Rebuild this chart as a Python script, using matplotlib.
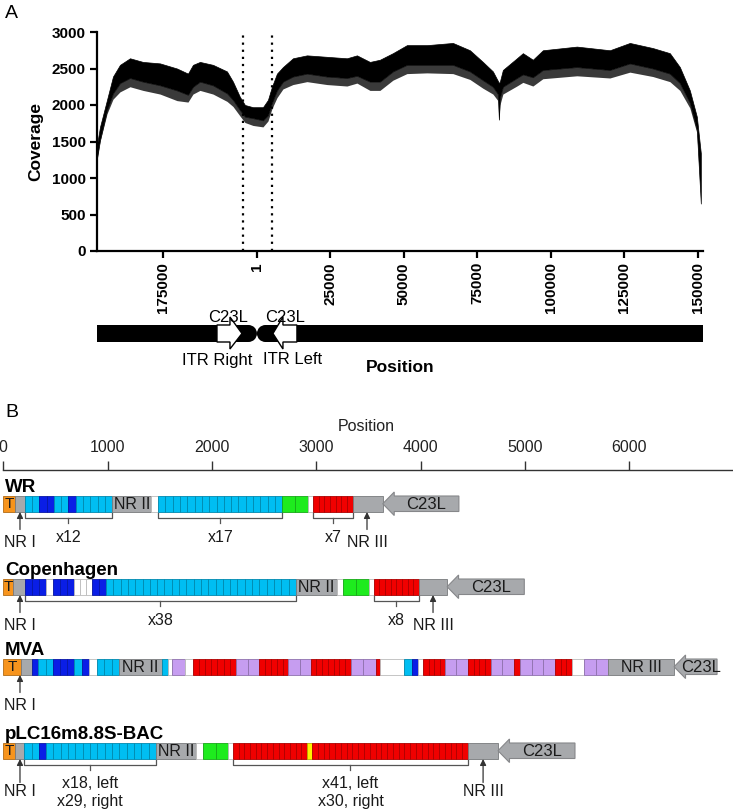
import matplotlib
matplotlib.use('Agg')
import matplotlib.pyplot as plt
import matplotlib.colors as mcolors
from matplotlib.patches import Rectangle, Polygon, Ellipse

plt.rcParams['font.family'] = ['Liberation Sans', 'DejaVu Sans']

# ---------------- panel A data ----------------
# shifted position (bp, position "1" at 0, right ITR end wrapped to negative), coverage band
genome_shift = 207000
cov_pos = [-54300, -53380, -51000, -48960, -46580, -43180, -38760, -32980, -27200,
           -23460, -21760, -19380, -14960, -10200, -8160, -5780, -4080, -1360, 2040,
           3740, 5100, 6800, 8840, 12240, 17000, 23800, 30600, 34000, 38420, 41820,
           46240, 51000, 57800, 66640, 72420, 76840, 80240, 81940, 82280, 82620, 83640,
           88400, 90440, 93840, 97240, 108800, 120020, 126820, 134640, 140420, 143820,
           147220, 149600, 150960]
cov_top = [1480, 1700, 2070, 2390, 2550, 2640, 2590, 2570, 2500,
           2430, 2550, 2590, 2550, 2460, 2320, 2110, 2000, 1970, 1970,
           2070, 2250, 2430, 2520, 2640, 2680, 2660, 2640, 2680, 2590, 2620,
           2710, 2820, 2820, 2850, 2750, 2590, 2460, 2330, 2300, 2320, 2480,
           2640, 2710, 2620, 2750, 2800, 2750, 2850, 2780, 2710, 2520,
           2200, 1840, 1340]
cov_bottom = [1290, 1520, 1930, 2160, 2300, 2370, 2320, 2270, 2200,
              2140, 2250, 2320, 2270, 2160, 2070, 1930, 1840, 1820, 1790,
              1860, 2030, 2200, 2320, 2390, 2430, 2390, 2370, 2400, 2320, 2320,
              2460, 2550, 2550, 2550, 2460, 2340, 2250, 2150, 1800, 2100, 2250,
              2370, 2420, 2380, 2480, 2520, 2480, 2570, 2500, 2430, 2300,
              2030, 1660, 650]
# lowest reach of the grey noise spikes below the dense band
cov_fringe = [1290, 1500, 1880, 2080, 2180, 2250, 2200, 2150, 2060,
              2040, 2150, 2200, 2150, 2050, 1980, 1850, 1760, 1720, 1700,
              1780, 1950, 2100, 2220, 2280, 2320, 2280, 2260, 2300, 2200, 2200,
              2340, 2430, 2440, 2430, 2350, 2230, 2150, 2060, 1790, 2000, 2150,
              2260, 2310, 2260, 2360, 2400, 2370, 2450, 2390, 2320, 2200,
              1960, 1620, 650]
itr_lines = [-4760, 5100]
a_tick_labels = [175000, 1, 25000, 50000, 75000, 100000, 125000, 150000]
a_xlim = (-54400, 151700)

# genome map (shifted bp)
itr_right_arrow = (-13600, -9180, -5100)   # tail, head base, tip
itr_left_arrow = (13600, 8840, 5440)

# ---------------- panel B data ----------------
# (kind, length bp, number of repeat cells)
wr_segs = [('T', 110, 1), ('gray', 95, 1), ('cyan', 140, 2), ('blue', 140, 2), ('cyan', 140, 2),
           ('blue', 70, 1), ('cyan', 350, 5), ('NR II', 375, 1), ('white', 65, 1),
           ('cyan', 1190, 17), ('green', 250, 2), ('white', 45, 1), ('red', 378, 7),
           ('gray', 290, 1)]
cop_segs = [('T', 95, 1), ('gray', 110, 1), ('blue', 200, 3), ('white', 70, 1), ('blue', 200, 3),
            ('white', 180, 3), ('blue', 130, 2), ('cyan', 1820, 26), ('NR II', 390, 1),
            ('white', 65, 1), ('green', 250, 2), ('white', 40, 1), ('red', 435, 8),
            ('gray', 270, 1)]
mva_segs = [('T', 167, 1), ('gray', 105, 1), ('blue', 64, 1), ('cyan', 144, 2), ('blue', 198, 3),
            ('cyan', 74, 1), ('blue', 73, 1), ('white', 70, 1), ('cyan', 214, 3),
            ('NR II', 410, 1), ('cyan', 63, 1), ('white', 33, 1), ('lav', 127, 1),
            ('white', 74, 1), ('red', 415, 7), ('lav', 224, 2), ('red', 278, 5),
            ('lav', 214, 2), ('red', 386, 7), ('lav', 240, 2), ('red', 39, 1),
            ('white', 230, 1), ('cyan', 76, 1), ('blue', 58, 1), ('white', 48, 1),
            ('red', 211, 4), ('lav', 220, 2), ('red', 221, 4), ('lav', 220, 2),
            ('red', 58, 1), ('lav', 335, 3), ('red', 163, 3), ('white', 115, 1),
            ('lav', 231, 2), ('NR III', 633, 1)]
plc_segs = [('T', 112, 1), ('gray', 87, 1), ('cyan', 143, 2), ('blue', 67, 1), ('cyan', 1055, 15),
            ('NR II', 384, 1), ('white', 67, 1), ('green', 239, 2), ('white', 48, 1),
            ('red', 710, 13), ('yellow', 48, 1), ('red', 1495, 27), ('gray', 288, 1)]

row_names = ['WR', 'Copenhagen', 'MVA', 'pLC16m8.8S-BAC']
row_segs = [wr_segs, cop_segs, mva_segs, plc_segs]
row_c23l = [730, 740, 412, 738]          # length of C23L arrow (bp)
row_nr1 = [160, 160, 160, 160]           # NR I arrow position (bp)
row_nr3 = [3487, 4120, None, 4600]       # NR III arrow position (bp)
row_brackets = [
    [(205, 1045, 'x12'), (1485, 2675, 'x17'), (2970, 3348, 'x7')],
    [(205, 2805, 'x38'), (3550, 3985, 'x8')],
    [],
    [(199, 1464, 'x18, left\nx29, right'), (2202, 4455, 'x41, left\nx30, right')],
]
b_ticks = [0, 1000, 2000, 3000, 4000, 5000, 6000]

colors = {'T': '#F7941D', 'gray': '#A7A9AC', 'NR II': '#A7A9AC', 'NR III': '#A7A9AC',
          'cyan': '#00BEF2', 'blue': '#0A1EE6', 'white': '#FFFFFF', 'green': '#1EEB1E',
          'red': '#F00000', 'lav': '#C69DF0', 'yellow': '#FFF200'}

W, H = 733, 809
fig = plt.figure(figsize=(W / 100, H / 100), dpi=100)


def px_axes(x0, y0, x1, y1):
    return fig.add_axes([x0 / W, 1 - y1 / H, (x1 - x0) / W, (y1 - y0) / H])


def shifted(p):
    return p - genome_shift if p > 160000 else p


# ---------------- panel A ----------------
axA = px_axes(97, 32, 703, 251)
axA.fill_between(cov_pos, cov_fringe, cov_bottom, color='#3a3a3a', lw=0)
axA.fill_between(cov_pos, cov_bottom, cov_top, color='black', lw=0.5)
for xv in itr_lines:
    axA.plot([xv, xv], [0, 3000], color='black', lw=1.6, ls=(0, (1, 2.2)))
axA.set_xlim(*a_xlim)
axA.set_ylim(0, 3000)
axA.set_yticks(range(0, 3001, 500))
axA.set_xticks([shifted(v) for v in a_tick_labels])
axA.set_xticklabels([str(v) for v in a_tick_labels], rotation=90)
for s in ['top', 'right']:
    axA.spines[s].set_visible(False)
for s in ['left', 'bottom']:
    axA.spines[s].set_linewidth(1.6)
axA.tick_params(length=5, width=1.6, pad=3, labelsize=11)
for lab in axA.get_xticklabels() + axA.get_yticklabels():
    lab.set_fontweight('bold')
axA.set_ylabel('Coverage', fontsize=12.5, fontweight='bold')
axA.yaxis.set_label_coords(-0.089, 0.5)

# genome map
axG = px_axes(97, 290, 703, 380)
axG.set_xlim(*a_xlim)
axG.set_ylim(380, 290)
axG.axis('off')
pxw = (a_xlim[1] - a_xlim[0]) / 606.0   # bp per pixel
yt, yb = 325, 342
ym = (yt + yb) / 2
r = (yb - yt) / 2
axG.add_patch(Rectangle((a_xlim[0], yt), -r * pxw - a_xlim[0], yb - yt, color='black', lw=0))
axG.add_patch(Rectangle((r * pxw, yt), a_xlim[1] - r * pxw, yb - yt, color='black', lw=0))
axG.add_patch(Ellipse((-r * pxw, ym), 2 * r * pxw, 2 * r, color='black', lw=0))
axG.add_patch(Ellipse((r * pxw, ym), 2 * r * pxw, 2 * r, color='black', lw=0))
for tail, hb, tip in [itr_right_arrow, itr_left_arrow]:
    axG.add_patch(Polygon([(tail, yt), (hb, yt), (hb, yt - 8), (tip, ym), (hb, yb + 7),
                           (hb, yb), (tail, yb)], closed=True, fc='white', ec='black',
                          lw=1.0, zorder=3))
axG.text(-9860, 317, 'C23L', ha='center', va='center', fontsize=12)
axG.text(9520, 317, 'C23L', ha='center', va='center', fontsize=12)
axG.text(itr_right_arrow[0], 360, 'ITR Right', ha='center', va='center', fontsize=12)
axG.text(12240, 360, 'ITR Left', ha='center', va='center', fontsize=12)
axG.text((a_xlim[0] + a_xlim[1]) / 2, 368, 'Position', ha='center', va='center',
         fontsize=12.5, fontweight='bold')

fig.text(5 / W, 1 - 18 / H, 'A', fontsize=14, va='baseline')
fig.text(5 / W, 1 - 417 / H, 'B', fontsize=14, va='baseline')

# ---------------- panel B ----------------
b_xlim = (-31.6, 6996)
axR = px_axes(0, 461, 733, 470)
axR.set_xlim(*b_xlim)
axR.set_yticks([])
for s in ['top', 'right', 'left']:
    axR.spines[s].set_visible(False)
axR.spines['bottom'].set_bounds(0, b_xlim[1])
axR.spines['bottom'].set_linewidth(1.0)
axR.spines['bottom'].set_color('#333333')
axR.set_xticks(b_ticks)
axR.tick_params(axis='x', direction='in', length=6.5, width=1.0, colors='#333333',
                labeltop=True, labelbottom=False, top=False, bottom=True, pad=4.5,
                labelsize=11.5, labelcolor='#222222')
axR.patch.set_visible(False)
axR.xaxis.set_label_position('top')
axR.set_xlabel('Position', fontsize=11.5, color='#222222', labelpad=6)

axB = px_axes(0, 395, 733, 809)
axB.set_xlim(*b_xlim)
axB.set_ylim(809, 395)
axB.axis('off')

bar_tops = [496, 579, 659, 743]
bar_h = 15.5
head_len = 110
txt_col = '#1a1a1a'
line_col = '#555555'


def darker(c, f=0.72):
    rgb = mcolors.to_rgb(c)
    if rgb == (1.0, 1.0, 1.0):
        return '#bbbbbb'
    return tuple(v * f for v in rgb)


for name, segs, c23, nr1, nr3, brs, top in zip(row_names, row_segs, row_c23l, row_nr1,
                                                 row_nr3, row_brackets, bar_tops):
    bot = top + bar_h
    mid = top + bar_h / 2
    axB.text(16, top - 4, name, fontsize=13.5, fontweight='bold', va='baseline',
             color='black')
    x = 0
    for kind, length, ncell in segs:
        w = length / ncell
        for i in range(ncell):
            axB.add_patch(Rectangle((x + i * w, top), w, bar_h, fc=colors[kind],
                                    ec=darker(colors[kind]), lw=0.6))
        if kind in ('T', 'NR II', 'NR III'):
            axB.text(x + length / 2, mid + 0.5, kind, ha='center', va='center',
                     fontsize=11.5 if kind != 'T' else 11, color=txt_col)
        x += length
    # C23L arrow
    axB.add_patch(Polygon([(x, mid), (x + head_len, top - 4), (x + head_len, top),
                           (x + c23, top), (x + c23, bot), (x + head_len, bot),
                           (x + head_len, bot + 4)], closed=True, fc=colors['gray'],
                          ec=darker(colors['gray'], 0.8), lw=0.8))
    axB.text(x + (head_len + c23) / 2, mid + 0.5, 'C23L', ha='center', va='center',
             fontsize=12, color=txt_col)
    # NR arrows
    lab_off = 37 if name.startswith('pLC') else 35
    arr_len = 24 if name.startswith('pLC') else 18
    for pos, lab in [(nr1, 'NR I'), (nr3, 'NR III')]:
        if pos is None:
            continue
        axB.annotate('', xy=(pos, bot + 0.5), xytext=(pos, bot + arr_len),
                     arrowprops=dict(arrowstyle='-|>', color='#333333', lw=0.9,
                                     mutation_scale=9, shrinkA=0, shrinkB=0))
        axB.text(pos, bot + lab_off, lab, ha='center', va='baseline', fontsize=11.5,
                 color=txt_col)
    # brackets
    for x0, x1, lab in brs:
        xc = (x0 + x1) / 2
        axB.plot([x0, x0, x1, x1], [bot + 1.5, bot + 6.5, bot + 6.5, bot + 1.5],
                 color=line_col, lw=0.9)
        axB.plot([xc, xc], [bot + 6.5, bot + 11.5], color=line_col, lw=0.9)
        if '\n' in lab:
            axB.text(xc, bot + 17, lab, ha='center', va='top', fontsize=11.5,
                     color=txt_col, linespacing=1.25)
        else:
            axB.text(xc, bot + 30, lab, ha='center', va='baseline', fontsize=11.5,
                     color=txt_col)

fig.savefig('out.png', dpi=100)
